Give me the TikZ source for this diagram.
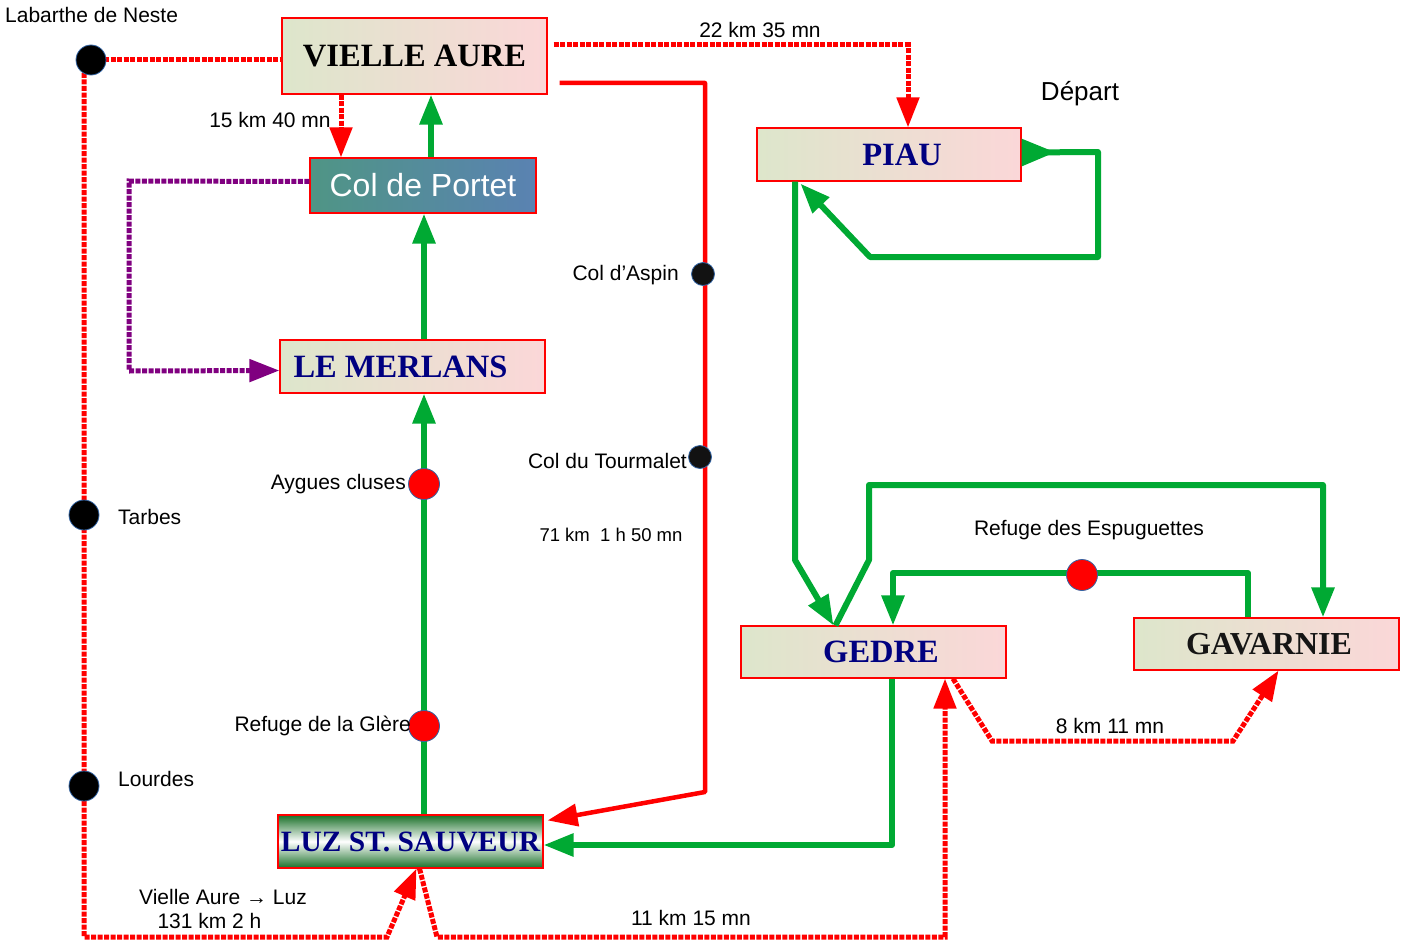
\documentclass[tikz,border=0pt]{standalone}
\usepackage{fontspec}
\setmainfont{Liberation Sans}
\newfontfamily\tnrfont{Liberation Serif}
\usetikzlibrary{arrows.meta}
\definecolor{rd}{HTML}{FF0000}
\definecolor{gr}{HTML}{00A933}
\definecolor{pu}{HTML}{800080}
\definecolor{nv}{HTML}{000080}
\definecolor{boxL}{HTML}{DDE6CB}
\definecolor{boxR}{HTML}{FBD7D8}
\definecolor{tealA}{HTML}{4F9585}
\definecolor{blueA}{HTML}{5A82B2}
\definecolor{dkg}{HTML}{1A7029}
\definecolor{dotedge}{HTML}{3465A4}
\definecolor{gavc}{HTML}{151515}
\begin{document}
\begin{tikzpicture}[x=1pt,y=-1pt,
  place/.style={draw=rd, line width=1.2pt, left color=boxL, right color=boxR,
    inner sep=0pt, text=nv, font=\tnrfont\bfseries\fontsize{32.5}{37}\selectfont},
  lbl/.style={inner sep=0pt, font=\fontsize{21}{25}\selectfont},
  reddash/.style={draw=rd, line width=5pt, dash pattern=on 5pt off 1.5pt},
  redsolid/.style={draw=rd, line width=4.5pt, line join=round},
  purpdash/.style={draw=pu, line width=5pt, dash pattern=on 5pt off 1.5pt},
  grn/.style={draw=gr, line width=6pt, line join=round},
  bigarrow/.style={-{Triangle[length=30pt,width=22pt]}},
  blackdot/.style={circle, fill=black, draw=dotedge, line width=0.8pt, minimum size=30pt, inner sep=0pt},
  smalldot/.style={circle, fill=black!93, draw=dotedge, line width=0.8pt, minimum size=23pt, inner sep=0pt},
  reddot/.style={circle, fill=rd, draw=dotedge, line width=0.8pt, minimum size=31pt, inner sep=0pt}
]
\useasboundingbox (0,0) rectangle (1406,942);

% boxes
\node[place, minimum width=265pt, minimum height=76pt, text=black] (va) at (414.5,56) {VIELLE AURE};
\node[place, minimum width=264pt, minimum height=53pt] (piau) at (889,154.5) {\hspace*{26pt}PIAU};
\node[draw=rd, line width=1.2pt, left color=tealA, right color=blueA, inner sep=0pt,
  minimum width=226pt, minimum height=55pt, text=white, font=\fontsize{32}{38}\selectfont] (portet) at (423,185.5) {Col de Portet};
\node[place, minimum width=265pt, minimum height=53pt] (merl) at (412.5,366.5) {LE MERLANS\hspace*{24pt}};
\node[draw=rd, line width=1.2pt, top color=dkg, bottom color=dkg, middle color=white, inner sep=0pt,
  minimum width=265pt, minimum height=53pt, text=nv, font=\tnrfont\bfseries\fontsize{29.5}{33}\selectfont] (luz) at (410.5,841.5) {LUZ ST. SAUVEUR};
\node[place, minimum width=265pt, minimum height=52pt] (gedre) at (873.5,652) {\hspace*{15pt}GEDRE};
\node[place, minimum width=265pt, minimum height=52pt, text=gavc, font=\tnrfont\bfseries\fontsize{32}{36}\selectfont] (gav) at (1266.5,644) {\hspace*{5pt}GAVARNIE};

% dots (positions)
\coordinate (labc) at (91,60);
\coordinate (tarbc) at (84,515);
\coordinate (lourc) at (84,786);

% red dashed routes
\draw[reddash] (labc) -- (labc -| va.west);
\draw[reddash, bigarrow] (tarbc |- labc) -- (tarbc) -- (lourc) -- (lourc |- 0,937) -- (387,937) -- ([xshift=6pt]luz.south);
\draw[reddash, bigarrow] ([xshift=9pt]luz.south) -- (437,937) -- (945,937) -- (gedre.south -| 945,0);
\draw[reddash, bigarrow] ([shift={(6pt,11pt)}]va.east) -| ([xshift=19pt]piau.north);
\draw[reddash, bigarrow] (va.south -| 341,0) -- (portet.north -| 341,0);
\draw[reddash, bigarrow] ([xshift=79.5pt]gedre.south) -- (992,741) -- (1233,741) -- ([xshift=12pt]gav.south);

% red solid route
\draw[redsolid, bigarrow] ([shift={(12pt,-27pt)}]va.east) -- (705,83) -- (705,792) -- ([shift={(4pt,-6pt)}]luz.north east);

% purple
\draw[purpdash, bigarrow] ([yshift=4pt]portet.west) -- (129,181) -- (129,371) -- ([yshift=-4pt]merl.west);

% green routes
\draw[grn, bigarrow] (portet.north -| 431,0) -- (va.south -| 431,0);
\draw[grn, bigarrow] (merl.north -| 424,0) -- (portet.south -| 424,0);
\draw[grn, bigarrow] (luz.north -| 424,0) -- (merl.south -| 424,0);
\draw[grn, {Triangle[reversed,length=34pt,width=26pt]}-{Triangle[length=30pt,width=22pt]}]
  ([yshift=2pt]piau.east) -- (1098,152) -- (1098,257) -- (870,257) -- ([shift={(44pt,-2pt)}]piau.south west);
\draw[grn, bigarrow] (piau.south -| 795,0) -- (795,560) -- ([xshift=-40pt]gedre.north);
\draw[grn, bigarrow] ([xshift=-38pt]gedre.north) -- (869,560) -- (869,485) -- (1323,485) -- (gav.north -| 1323,0);
\draw[grn, bigarrow] (gav.north -| 1248,0) -- (1248,573) -- (893,573) -- (gedre.north -| 893,0);
\draw[grn, bigarrow] (gedre.south -| 892,0) -- (892,845) -- ([yshift=-3.5pt]luz.east);

% dots
\node[blackdot] (lab) at (labc) {};
\node[blackdot] (tarb) at (tarbc) {};
\node[blackdot] (lour) at (lourc) {};
\node[smalldot] (asp) at (703,274) {};
\node[smalldot] (tour) at (700,457) {};
\node[reddot] (ayg) at (424,484) {};
\node[reddot] (gle) at (424,726) {};
\node[reddot] (esp) at (1082,575) {};

% labels
\node[lbl, anchor=west] (tlab) at (5,15) {Labarthe de Neste};
\node[lbl] (t1540) at (270,120) {15 km 40 mn};
\node[lbl] (t2235) at (760,30) {22 km 35 mn};
\node[lbl, font=\fontsize{26}{30}\selectfont] (tdep) at (1080,94) {Départ};
\node[lbl, anchor=east] (tasp) at (679,275) {Col d’Aspin};
\node[lbl, anchor=east] (ttour) at (687,461) {Col du Tourmalet};
\node[lbl, font=\fontsize{18.5}{22}\selectfont] (t71) at (611,535) {71 km\ \ 1 h 50 mn};
\node[lbl, anchor=east] (tayg) at (406,484) {Aygues cluses};
\node[lbl, anchor=west] (ttar) at (118,517) {Tarbes};
\node[lbl, anchor=east] (tgle) at (411,726) {Refuge de la Glère};
\node[lbl, anchor=west] (tlou) at (118,779) {Lourdes};
\node[lbl] (tval) at (223,897) {Vielle Aure → Luz};
\node[lbl] (t131) at (209.5,921) {131 km 2 h};
\node[lbl] (t1115) at (691,918) {11 km 15 mn};
\node[lbl] (tesp) at (1089,530) {Refuge des Espuguettes};
\node[lbl] (t811) at (1110,726) {8 km 11 mn};
\end{tikzpicture}
\end{document}
